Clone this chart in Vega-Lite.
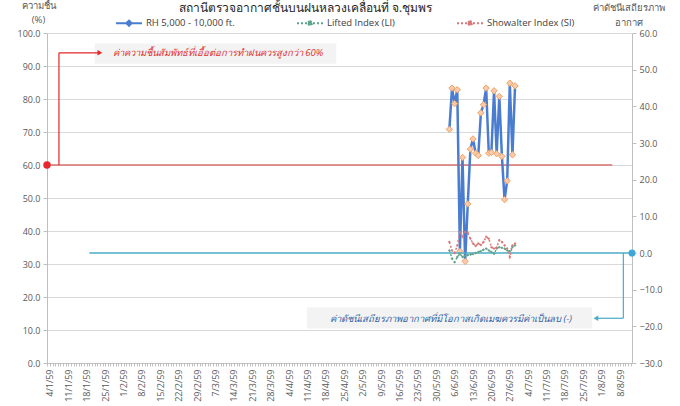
{
  "$schema": "https://vega.github.io/schema/vega-lite/v6.json",
  "width": 585,
  "height": 330,
  "autosize": {"type": "none"},
  "padding": {"left": 47, "top": 33, "right": 48, "bottom": 43},
  "background": "white",
  "title": {
    "text": "สถานีตรวจอากาศชั้นบนฝนหลวงเคลื่อนที่  จ.ชุมพร",
    "fontSize": 12,
    "fontWeight": "normal",
    "color": "#262626",
    "anchor": "middle",
    "frame": "group",
    "dx": -34,
    "offset": -24,
    "baseline": "alphabetic"
  },
  "datasets": {
    "rh": [
      {"date": "2016-06-04", "series": "RH 5,000 - 10,000 ft.", "value": 70.8},
      {"date": "2016-06-05", "series": "RH 5,000 - 10,000 ft.", "value": 83.3},
      {"date": "2016-06-06", "series": "RH 5,000 - 10,000 ft.", "value": 78.6},
      {"date": "2016-06-07", "series": "RH 5,000 - 10,000 ft.", "value": 82.8},
      {"date": "2016-06-08", "series": "RH 5,000 - 10,000 ft.", "value": 33.8},
      {"date": "2016-06-09", "series": "RH 5,000 - 10,000 ft.", "value": 62.3},
      {"date": "2016-06-10", "series": "RH 5,000 - 10,000 ft.", "value": 30.8},
      {"date": "2016-06-11", "series": "RH 5,000 - 10,000 ft.", "value": 48.2},
      {"date": "2016-06-12", "series": "RH 5,000 - 10,000 ft.", "value": 64.8},
      {"date": "2016-06-13", "series": "RH 5,000 - 10,000 ft.", "value": 67.9},
      {"date": "2016-06-14", "series": "RH 5,000 - 10,000 ft.", "value": 63.6},
      {"date": "2016-06-15", "series": "RH 5,000 - 10,000 ft.", "value": 62.9},
      {"date": "2016-06-16", "series": "RH 5,000 - 10,000 ft.", "value": 75.8},
      {"date": "2016-06-17", "series": "RH 5,000 - 10,000 ft.", "value": 78.3},
      {"date": "2016-06-18", "series": "RH 5,000 - 10,000 ft.", "value": 83.3},
      {"date": "2016-06-19", "series": "RH 5,000 - 10,000 ft.", "value": 63.6},
      {"date": "2016-06-20", "series": "RH 5,000 - 10,000 ft.", "value": 63.8},
      {"date": "2016-06-21", "series": "RH 5,000 - 10,000 ft.", "value": 82.5},
      {"date": "2016-06-22", "series": "RH 5,000 - 10,000 ft.", "value": 63.4},
      {"date": "2016-06-23", "series": "RH 5,000 - 10,000 ft.", "value": 80.8},
      {"date": "2016-06-24", "series": "RH 5,000 - 10,000 ft.", "value": 62.6},
      {"date": "2016-06-25", "series": "RH 5,000 - 10,000 ft.", "value": 49.5},
      {"date": "2016-06-26", "series": "RH 5,000 - 10,000 ft.", "value": 55.2},
      {"date": "2016-06-27", "series": "RH 5,000 - 10,000 ft.", "value": 84.8},
      {"date": "2016-06-28", "series": "RH 5,000 - 10,000 ft.", "value": 63.1},
      {"date": "2016-06-29", "series": "RH 5,000 - 10,000 ft.", "value": 84.0}
    ],
    "idx": [
      {"date": "2016-06-04", "series": "Lifted Index (LI)", "value": 0.7},
      {"date": "2016-06-05", "series": "Lifted Index (LI)", "value": -1.5},
      {"date": "2016-06-06", "series": "Lifted Index (LI)", "value": -2.5},
      {"date": "2016-06-07", "series": "Lifted Index (LI)", "value": -1.1},
      {"date": "2016-06-08", "series": "Lifted Index (LI)", "value": -0.2},
      {"date": "2016-06-09", "series": "Lifted Index (LI)", "value": -1.1},
      {"date": "2016-06-10", "series": "Lifted Index (LI)", "value": -0.8},
      {"date": "2016-06-11", "series": "Lifted Index (LI)", "value": -0.6},
      {"date": "2016-06-12", "series": "Lifted Index (LI)", "value": -0.4},
      {"date": "2016-06-13", "series": "Lifted Index (LI)", "value": -0.3},
      {"date": "2016-06-14", "series": "Lifted Index (LI)", "value": 0.0},
      {"date": "2016-06-15", "series": "Lifted Index (LI)", "value": 0.3},
      {"date": "2016-06-16", "series": "Lifted Index (LI)", "value": 0.5},
      {"date": "2016-06-17", "series": "Lifted Index (LI)", "value": 0.9},
      {"date": "2016-06-18", "series": "Lifted Index (LI)", "value": 1.2},
      {"date": "2016-06-19", "series": "Lifted Index (LI)", "value": 0.7},
      {"date": "2016-06-20", "series": "Lifted Index (LI)", "value": 0.3},
      {"date": "2016-06-21", "series": "Lifted Index (LI)", "value": -0.2},
      {"date": "2016-06-22", "series": "Lifted Index (LI)", "value": 1.2},
      {"date": "2016-06-23", "series": "Lifted Index (LI)", "value": 1.6},
      {"date": "2016-06-24", "series": "Lifted Index (LI)", "value": 1.4},
      {"date": "2016-06-25", "series": "Lifted Index (LI)", "value": 1.2},
      {"date": "2016-06-26", "series": "Lifted Index (LI)", "value": 0.7},
      {"date": "2016-06-27", "series": "Lifted Index (LI)", "value": 0.5},
      {"date": "2016-06-28", "series": "Lifted Index (LI)", "value": 1.6},
      {"date": "2016-06-29", "series": "Lifted Index (LI)", "value": 2.1},
      {"date": "2016-06-04", "series": "Showalter Index (SI)", "value": 3.0},
      {"date": "2016-06-05", "series": "Showalter Index (SI)", "value": 0.7},
      {"date": "2016-06-06", "series": "Showalter Index (SI)", "value": 0.0},
      {"date": "2016-06-07", "series": "Showalter Index (SI)", "value": 2.0},
      {"date": "2016-06-08", "series": "Showalter Index (SI)", "value": 5.7},
      {"date": "2016-06-09", "series": "Showalter Index (SI)", "value": 4.4},
      {"date": "2016-06-10", "series": "Showalter Index (SI)", "value": 5.7},
      {"date": "2016-06-11", "series": "Showalter Index (SI)", "value": 5.5},
      {"date": "2016-06-12", "series": "Showalter Index (SI)", "value": 3.9},
      {"date": "2016-06-13", "series": "Showalter Index (SI)", "value": 2.6},
      {"date": "2016-06-14", "series": "Showalter Index (SI)", "value": 1.9},
      {"date": "2016-06-15", "series": "Showalter Index (SI)", "value": 2.6},
      {"date": "2016-06-16", "series": "Showalter Index (SI)", "value": 2.2},
      {"date": "2016-06-17", "series": "Showalter Index (SI)", "value": 3.0},
      {"date": "2016-06-18", "series": "Showalter Index (SI)", "value": 4.4},
      {"date": "2016-06-19", "series": "Showalter Index (SI)", "value": 3.9},
      {"date": "2016-06-20", "series": "Showalter Index (SI)", "value": 1.6},
      {"date": "2016-06-21", "series": "Showalter Index (SI)", "value": 1.2},
      {"date": "2016-06-22", "series": "Showalter Index (SI)", "value": 1.5},
      {"date": "2016-06-23", "series": "Showalter Index (SI)", "value": 3.5},
      {"date": "2016-06-24", "series": "Showalter Index (SI)", "value": 3.0},
      {"date": "2016-06-25", "series": "Showalter Index (SI)", "value": 2.1},
      {"date": "2016-06-26", "series": "Showalter Index (SI)", "value": 1.2},
      {"date": "2016-06-27", "series": "Showalter Index (SI)", "value": -1.1},
      {"date": "2016-06-28", "series": "Showalter Index (SI)", "value": 2.1},
      {"date": "2016-06-29", "series": "Showalter Index (SI)", "value": 2.6}
    ],
    "redRef": [
      {"date": "2016-01-02T21:00:00Z", "date2": "2016-08-05T00:00:00Z", "value": 60, "value2": 60}
    ],
    "redDot": [
      {"date": "2016-01-02T21:00:00Z", "value": 60}
    ],
    "redConn": [
      {"date": "2016-01-07T10:00:00Z", "date2": "2016-01-07T10:00:00Z", "value": 60, "value2": 94},
      {"date": "2016-01-07T10:00:00Z", "date2": "2016-01-22T12:00:00Z", "value": 94, "value2": 94}
    ],
    "redHead": [
      {"date": "2016-01-23T00:00:00Z", "value": 94}
    ],
    "redBox": [
      {"date": "2016-01-21T00:00:00Z", "date2": "2016-04-22T00:00:00Z", "value": 90.7, "value2": 96.8}
    ],
    "redText": [
      {"date": "2016-03-08T00:00:00Z", "value": 93.8, "label": "ค่าความชื้นสัมพัทธ์ที่เอื้อต่อการทำฝนควรสูงกว่า 60%"}
    ],
    "tealRef": [
      {"date": "2016-01-19T00:00:00Z", "date2": "2016-08-12T12:00:00Z", "value": 0, "value2": 0}
    ],
    "tealDot": [
      {"date": "2016-08-12T12:00:00Z", "value": 0}
    ],
    "tealConn": [
      {"date": "2016-08-09T05:00:00Z", "date2": "2016-08-09T05:00:00Z", "value": 0, "value2": -17.8},
      {"date": "2016-08-09T05:00:00Z", "date2": "2016-07-30T12:00:00Z", "value": -17.8, "value2": -17.8}
    ],
    "tealHead": [
      {"date": "2016-07-29T18:00:00Z", "value": -17.8}
    ],
    "tealBox": [
      {"date": "2016-04-10T19:00:00Z", "date2": "2016-07-28T07:00:00Z", "value": -14.8, "value2": -20.6}
    ],
    "tealText": [
      {"date": "2016-06-04T14:00:00Z", "value": -17.9, "label": "ค่าดัชนีเสถียรภาพอากาศที่มีโอกาสเกิดเมฆควรมีค่าเป็นลบ (-)"}
    ]
  },
  "encoding": {
    "x": {
      "field": "date",
      "type": "temporal",
      "scale": {
        "type": "utc",
        "nice": false,
        "domain": [
          {"year": 2016, "month": 1, "date": 2, "hours": 21, "utc": true},
          {"year": 2016, "month": 8, "date": 12, "hours": 12, "utc": true}
        ]
      },
      "axis": {
        "title": null,
        "grid": false,
        "tickCount": {"interval": "day", "step": 1},
        "tickSize": 3,
        "labelAngle": 270,
        "labelPadding": 3,
        "labelOverlap": false,
        "labelFlush": false,
        "labelBound": false,
        "labelExpr": "round((datum.value - 1451865600000) / 86400000) % 7 === 0 ? utcFormat(datum.value, '%-d/%-m/') + '59' : ''"
      }
    }
  },
  "layer": [
    {
      "encoding": {
        "y": {
          "field": "value",
          "type": "quantitative",
          "scale": {"domain": [0, 100], "nice": false, "zero": false},
          "axis": {
            "orient": "left",
            "values": [0, 10, 20, 30, 40, 50, 60, 70, 80, 90, 100],
            "format": ".1f",
            "grid": true,
            "title": ["ความชื้น", "(%)"],
            "titleAngle": 0,
            "titleAlign": "center",
            "titleBaseline": "alphabetic",
            "titleX": -9,
            "titleY": -25,
            "titleLineHeight": 14
          }
        }
      },
      "layer": [
        {
          "data": {"name": "redBox"},
          "mark": {"type": "rect", "fill": "#F3F3F3"},
          "encoding": {"x2": {"field": "date2"}, "y2": {"field": "value2"}}
        },
        {
          "data": {"name": "redRef"},
          "mark": {"type": "rule", "color": "#D9706E", "strokeWidth": 1.5},
          "encoding": {"x2": {"field": "date2"}, "y2": {"field": "value2"}}
        },
        {
          "data": {"name": "redConn"},
          "mark": {"type": "rule", "color": "#E0282B", "strokeWidth": 1.2},
          "encoding": {"x2": {"field": "date2"}, "y2": {"field": "value2"}}
        },
        {
          "data": {"name": "redHead"},
          "mark": {"type": "point", "shape": "triangle-right", "filled": true, "color": "#E0282B", "size": 30, "opacity": 1}
        },
        {
          "data": {"name": "redDot"},
          "mark": {"type": "point", "shape": "circle", "filled": true, "color": "#E8262B", "size": 55, "opacity": 1}
        },
        {
          "data": {"name": "redText"},
          "mark": {"type": "text", "font": "Open Sans", "fontSize": 9.5, "fontStyle": "italic", "color": "#E0302F", "align": "center", "baseline": "middle"},
          "encoding": {"text": {"field": "label"}}
        },
        {
          "data": {"name": "rh"},
          "mark": {"type": "line", "strokeWidth": 2.5},
          "encoding": {
            "color": {
              "field": "series",
              "type": "nominal",
              "scale": {
                "domain": ["RH 5,000 - 10,000 ft.", "Lifted Index (LI)", "Showalter Index (SI)"],
                "range": ["#4A7DD0", "#5FA58A", "#D9797A"]
              },
              "legend": {
                "orient": "none",
                "legendX": 68,
                "legendY": -24,
                "direction": "horizontal",
                "title": null,
                "columnPadding": 58,
                "symbolSize": 676,
                "symbolType": "M-1,0H1M0,-0.2L0.2,0L0,0.2L-0.2,0Z",
                "symbolStrokeWidth": 2,
                "labelFont": "Open Sans",
                "labelFontSize": 9.5,
                "labelColor": "#404040",
                "labelOffset": 3
              }
            },
            "strokeDash": {
              "field": "series",
              "type": "nominal",
              "scale": {
                "domain": ["RH 5,000 - 10,000 ft.", "Lifted Index (LI)", "Showalter Index (SI)"],
                "range": [[1, 0], [2, 2], [2, 2]]
              },
              "legend": {
                "orient": "none",
                "legendX": 68,
                "legendY": -24,
                "direction": "horizontal",
                "title": null,
                "columnPadding": 58,
                "symbolSize": 676,
                "symbolType": "M-1,0H1M0,-0.2L0.2,0L0,0.2L-0.2,0Z",
                "symbolStrokeWidth": 2,
                "labelFont": "Open Sans",
                "labelFontSize": 9.5,
                "labelColor": "#404040",
                "labelOffset": 3
              }
            }
          }
        },
        {
          "data": {"name": "rh"},
          "mark": {"type": "point", "shape": "diamond", "filled": true, "fill": "#F8CBAD", "stroke": "#F0A060", "strokeWidth": 1, "size": 40, "opacity": 1}
        }
      ]
    },
    {
      "encoding": {
        "y": {
          "field": "value",
          "type": "quantitative",
          "scale": {"domain": [-30, 60], "nice": false, "zero": false},
          "axis": {
            "orient": "right",
            "values": [-30, -20, -10, 0, 10, 20, 30, 40, 50, 60],
            "format": ".1f",
            "grid": false,
            "title": ["ค่าดัชนีเสถียรภาพ", "อากาศ"],
            "titleAngle": 0,
            "titleAlign": "center",
            "titleBaseline": "alphabetic",
            "titleX": -4,
            "titleY": -23,
            "titleLineHeight": 15
          }
        }
      },
      "layer": [
        {
          "data": {"name": "tealBox"},
          "mark": {"type": "rect", "fill": "#F3F3F3"},
          "encoding": {"x2": {"field": "date2"}, "y2": {"field": "value2"}}
        },
        {
          "data": {"name": "tealRef"},
          "mark": {"type": "rule", "color": "#4BACC6", "strokeWidth": 1.3},
          "encoding": {"x2": {"field": "date2"}, "y2": {"field": "value2"}}
        },
        {
          "data": {"name": "tealConn"},
          "mark": {"type": "rule", "color": "#4BACC6", "strokeWidth": 1.2},
          "encoding": {"x2": {"field": "date2"}, "y2": {"field": "value2"}}
        },
        {
          "data": {"name": "tealHead"},
          "mark": {"type": "point", "shape": "triangle-left", "filled": true, "color": "#4BACC6", "size": 30, "opacity": 1}
        },
        {
          "data": {"name": "tealDot"},
          "mark": {"type": "point", "shape": "circle", "filled": true, "color": "#3FA6D8", "size": 50, "opacity": 1}
        },
        {
          "data": {"name": "tealText"},
          "mark": {"type": "text", "font": "Open Sans", "fontSize": 9.5, "fontStyle": "italic", "color": "#2F65A7", "align": "center", "baseline": "middle"},
          "encoding": {"text": {"field": "label"}}
        },
        {
          "data": {"name": "idx"},
          "mark": {"type": "line", "strokeWidth": 1.5},
          "encoding": {
            "color": {
              "field": "series",
              "type": "nominal",
              "scale": {
                "domain": ["RH 5,000 - 10,000 ft.", "Lifted Index (LI)", "Showalter Index (SI)"],
                "range": ["#4A7DD0", "#5FA58A", "#D9797A"]
              }
            },
            "strokeDash": {
              "field": "series",
              "type": "nominal",
              "scale": {
                "domain": ["RH 5,000 - 10,000 ft.", "Lifted Index (LI)", "Showalter Index (SI)"],
                "range": [[1, 0], [2, 2], [2, 2]]
              }
            }
          }
        },
        {
          "data": {"name": "idx"},
          "mark": {"type": "point", "shape": "diamond", "filled": true, "size": 8, "opacity": 1},
          "encoding": {
            "color": {
              "field": "series",
              "type": "nominal",
              "scale": {
                "domain": ["RH 5,000 - 10,000 ft.", "Lifted Index (LI)", "Showalter Index (SI)"],
                "range": ["#4A7DD0", "#5FA58A", "#D9797A"]
              },
              "legend": null
            }
          }
        }
      ]
    }
  ],
  "resolve": {"scale": {"y": "independent"}},
  "config": {
    "font": "Open Sans",
    "view": {"stroke": null},
    "axis": {
      "labelFont": "Open Sans",
      "labelFontSize": 9,
      "labelColor": "#595959",
      "titleFont": "Open Sans",
      "titleFontSize": 9.5,
      "titleFontWeight": "normal",
      "titleColor": "#595959",
      "domainColor": "#BFBFBF",
      "tickColor": "#BFBFBF",
      "gridColor": "#D9D9D9",
      "tickSize": 4,
      "labelPadding": 3
    }
  }
}
